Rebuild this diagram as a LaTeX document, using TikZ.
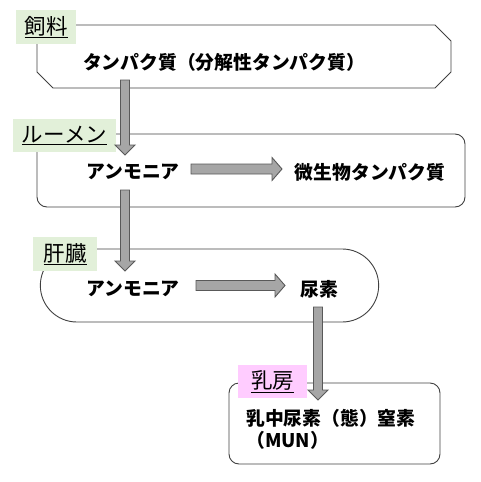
\documentclass[tikz,border=0pt]{standalone}
\usepackage{fontspec}
\setmainfont{Noto Sans CJK JP}
\usetikzlibrary{shapes.misc,calc}
\definecolor{lineC}{HTML}{404040}
\definecolor{arrFill}{HTML}{A6A6A6}
\definecolor{arrLine}{HTML}{595959}
\definecolor{greenL}{HTML}{E2F0D9}
\definecolor{pinkL}{HTML}{FFCCFF}
\tikzset{
  boxline/.style={draw=lineC, line width=0.9pt},
  lbl/.style={inner sep=0pt, font=\fontsize{21.5}{24}\selectfont},
  body/.style={inner sep=0pt, font=\fontsize{18.8}{22}\selectfont\bfseries},
  fat/.style={draw=arrLine, fill=arrFill, line width=0.9pt, line join=miter}
}
\newcommand\fatV[2]{%
  \draw[fat] ($(#1)+(-4.5,0)$) -- ($(#2)+(-4.5,-10)$) -- ($(#2)+(-10,-10)$) -- (#2)
    -- ($(#2)+(10,-10)$) -- ($(#2)+(4.5,-10)$) -- ($(#1)+(4.5,0)$) -- cycle;}
\newcommand\fatH[2]{%
  \draw[fat] ($(#1)+(0,-5)$) -- ($(#2)+(-10,-5)$) -- ($(#2)+(-10,-11.5)$) -- (#2)
    -- ($(#2)+(-10,11.5)$) -- ($(#2)+(-10,5)$) -- ($(#1)+(0,5)$) -- cycle;}
\begin{document}
\begin{tikzpicture}[x=1pt,y=-1pt]
\useasboundingbox (0,0) rectangle (480,482);
% boxes
\draw[boxline] (53,25) -- (435,25) -- (451,41) -- (451,72) -- (435,88) -- (53,88) -- (37,72) -- (37,41) -- cycle;
\node[boxline, rectangle, rounded corners=10pt, minimum width=428pt, minimum height=73pt] (box2) at (251,170.5) {};
\node[boxline, rounded rectangle, minimum width=345pt, minimum height=73pt] (box3) at (209.5,285.5) {};
\node[boxline, rectangle, rounded corners=10pt, minimum width=211pt, minimum height=81pt] (box4) at (334.5,423.5) {};
% labels
\node[lbl, fill=greenL, minimum width=60pt, minimum height=34pt] (l1) at (46,27) {\underline{飼料}};
\node[lbl, fill=greenL, minimum width=103pt, minimum height=33pt] (l2) at (64.5,135.5) {\underline{ルーメン}};
\node[lbl, fill=greenL, minimum width=64pt, minimum height=34pt] (l3) at (65,254) {\underline{肝臓}};
\node[lbl, fill=pinkL, minimum width=69pt, minimum height=33pt] (l4) at (272.5,381.5) {\underline{乳房}};
% texts
\node[body] (t1) at (224,62) {タンパク質（分解性タンパク質）};
\node[body] (t2a) at (133,172) {アンモニア};
\node[body] (t2b) at (370,172) {微生物タンパク質};
\node[body] (t3a) at (133,289) {アンモニア};
\node[body] (t3b) at (319,289) {尿素};
\node[body, align=left, anchor=west] (t4) at (246,429) {乳中尿素（態）窒素\\（MUN）};
% arrow end points
\coordinate (a1s) at (125,80);  \coordinate (a1t) at (125,155);
\coordinate (a2s) at (191,169); \coordinate (a2t) at (282,169);
\coordinate (a3s) at (125,190); \coordinate (a3t) at (125,271);
\coordinate (a4s) at (196,285.5); \coordinate (a4t) at (285,285.5);
\coordinate (a5s) at (318,307); \coordinate (a5t) at (318,400);
\fatV{a1s}{a1t}
\fatH{a2s}{a2t}
\fatV{a3s}{a3t}
\fatH{a4s}{a4t}
\fatV{a5s}{a5t}
\end{tikzpicture}
\end{document}
